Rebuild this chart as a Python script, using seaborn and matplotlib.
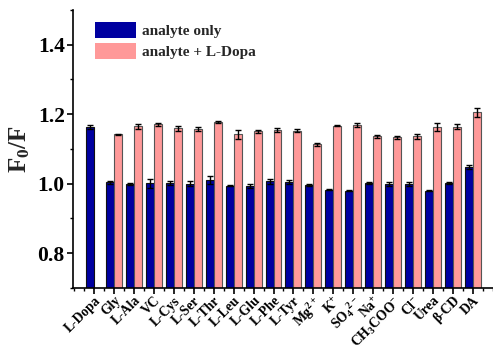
import numpy as np
import pandas as pd
import matplotlib
matplotlib.use("Agg")
import matplotlib.pyplot as plt
from matplotlib.container import BarContainer
from matplotlib.ticker import MultipleLocator
import seaborn as sns

categories = ["L-Dopa", "Gly", "L-Ala", "VC", "L-Cys", "L-Ser", "L-Thr", "L-Leu",
              "L-Glu", "L-Phe", "L-Tyr", "Mg$^{2+}$", "K$^{+}$", "SO$_4$$^{2-}$",
              "Na$^{+}$", "CH$_3$COO$^{-}$", "Cl$^{-}$", "Urea", "β-CD", "DA"]

analyte_only = [1.163, 1.004, 0.999, 1.001, 1.002, 1.000, 1.010, 0.994, 0.994, 1.007,
                1.006, 0.996, 0.983, 0.980, 1.002, 0.999, 0.999, 0.980, 1.002, 1.047]
analyte_only_err = [0.005, 0.004, 0.002, 0.012, 0.005, 0.008, 0.012, 0.002, 0.006, 0.007,
                    0.006, 0.004, 0.002, 0.002, 0.003, 0.005, 0.005, 0.002, 0.003, 0.006]

with_ldopa = [np.nan, 1.142, 1.165, 1.171, 1.160, 1.158, 1.178, 1.142, 1.151, 1.154,
              1.153, 1.113, 1.167, 1.168, 1.136, 1.134, 1.136, 1.163, 1.164, 1.205]
with_ldopa_err = [np.nan, 0.002, 0.008, 0.005, 0.007, 0.006, 0.002, 0.012, 0.004, 0.006,
                  0.005, 0.004, 0.002, 0.006, 0.005, 0.004, 0.007, 0.011, 0.007, 0.012]

series = ["analyte only", "analyte + L-Dopa"]
colors = ["#0000A0", "#FF9999"]

df = pd.DataFrame({
    "analyte": categories * 2,
    "F0F": analyte_only + with_ldopa,
    "group": [series[0]] * len(categories) + [series[1]] * len(categories),
})

sns.set_theme(style="ticks")
plt.rcParams["font.family"] = ["Liberation Serif", "DejaVu Serif"]
plt.rcParams["font.weight"] = "bold"
plt.rcParams["mathtext.default"] = "regular"

fig = plt.figure(figsize=(4.93, 3.46), dpi=100)
ax = fig.add_axes([0.148, 0.168, 0.852, 0.803])

sns.barplot(data=df, x="analyte", y="F0F", hue="group", order=categories,
            hue_order=series, palette=colors, saturation=1, width=0.8,
            errorbar=None, linewidth=0.8, edgecolor="black", ax=ax, zorder=2)

errs = [analyte_only_err, with_ldopa_err]
edge_cols = ["#111111", "#555555"]
bar_groups = [c for c in ax.containers if isinstance(c, BarContainer)]
for k, cont in enumerate(bar_groups):
    xs, ys, es = [], [], []
    for bar in cont:
        h = bar.get_height()
        if not np.isfinite(h):
            continue
        bar.set_edgecolor(edge_cols[k])
        xc = bar.get_x() + bar.get_width() / 2
        idx = int(round(xc))
        xs.append(xc)
        ys.append(h)
        es.append(errs[k][idx])
    ax.errorbar(xs, ys, yerr=es, fmt="none", ecolor="black", elinewidth=1.0,
                capsize=2.5, capthick=1.0, zorder=3)

ax.set_ylim(0.7, 1.5)
ax.set_xlim(-1.05, 20.0)
ax.yaxis.set_minor_locator(MultipleLocator(0.1))
ax.xaxis.set_minor_locator(MultipleLocator(0.5))
ax.set_yticks([0.8, 1.0, 1.2, 1.4])
ax.set_yticklabels(["0.8", "1.0", "1.2", "1.4"], fontsize=15.5, fontweight="bold")
ax.set_xticks(range(len(categories)))
ax.set_xticklabels(categories, rotation=45, ha="right", rotation_mode="anchor",
                   fontsize=9.8, fontweight="bold")
ax.tick_params(axis="both", which="major", direction="out", length=4, width=1.2,
               colors="black", pad=2)
ax.tick_params(axis="both", which="minor", direction="out", length=2.5, width=1.0,
               colors="black")
ax.tick_params(axis="x", which="major", pad=0.5)

ax.set_xlabel("")
ax.set_ylabel("F$_0$/F", fontsize=18, fontweight="bold", labelpad=4)

sns.despine(ax=ax)
for s in ["left", "bottom"]:
    ax.spines[s].set_linewidth(1.2)
    ax.spines[s].set_color("black")

leg = ax.legend(loc="upper left", bbox_to_anchor=(0.03, 0.99), frameon=False,
                prop={"family": "Liberation Serif", "weight": "bold", "size": 11},
                handlelength=2.7, handleheight=1.2, handletextpad=0.4,
                labelspacing=0.35, borderaxespad=0.2)
for h in leg.legend_handles:
    h.set_linewidth(0)

fig.savefig("out.png", dpi=100)
